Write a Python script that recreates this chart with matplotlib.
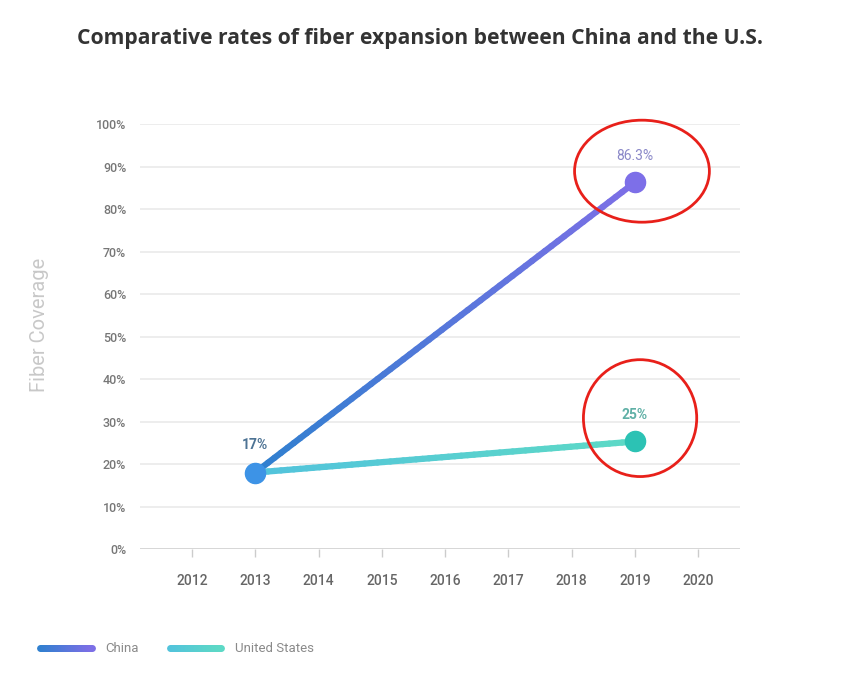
import numpy as np
import matplotlib
matplotlib.use("Agg")
import matplotlib.pyplot as plt
from matplotlib.collections import LineCollection
from matplotlib.colors import LinearSegmentedColormap
from matplotlib.patches import Ellipse

years = [2012, 2013, 2014, 2015, 2016, 2017, 2018, 2019, 2020]
yticks = [0, 10, 20, 30, 40, 50, 60, 70, 80, 90, 100]

china_years = [2013, 2019]
china_values = [18, 86.3]
china_labels = ["17%", "86.3%"]

us_years = [2013, 2019]
us_values = [18, 25.3]
us_labels = ["", "25%"]

plt.rcParams['font.family'] = ['Roboto', 'DejaVu Sans']


def gradient_line(ax, xs, ys, c1, c2, lw):
    # split each segment so the colour can fade from c1 to c2
    pts = []
    for i in range(len(xs) - 1):
        t = np.linspace(0, 1, 60)
        px = xs[i] + (xs[i + 1] - xs[i]) * t
        py = ys[i] + (ys[i + 1] - ys[i]) * t
        pts.append(np.column_stack([px, py]))
    pts = np.vstack(pts)
    segs = np.stack([pts[:-1], pts[1:]], axis=1)
    cmap = LinearSegmentedColormap.from_list("g", [c1, c2])
    lc = LineCollection(segs, cmap=cmap, linewidths=lw, capstyle='round', zorder=3)
    lc.set_array(np.linspace(0, 1, len(segs)))
    ax.add_collection(lc)


def create_chart():
    fig = plt.figure(figsize=(8.41, 6.81), dpi=100)
    ax = fig.add_axes([0.1665, 0.1938, 0.7135, 0.6241])

    ax.set_xlim(2011.18, 2020.66)
    ax.set_ylim(0, 100)
    for sp in ax.spines.values():
        sp.set_visible(False)

    for v in yticks[1:]:
        ax.axhline(v, color='#e8e8e8', lw=1.1, zorder=1)
    ax.axhline(0, color='#d0d0d0', lw=1.2, zorder=1)

    ax.set_xticks(years)
    ax.set_xticklabels([str(y) for y in years])
    ax.set_yticks(yticks)
    ax.set_yticklabels([f"{v}%" for v in yticks])
    ax.tick_params(axis='x', length=6, width=1, color='#cccccc', pad=12,
                   labelsize=10, labelcolor='#666666')
    ax.tick_params(axis='y', length=0, pad=10, labelsize=9, labelcolor='#777777')
    for lab in ax.get_xticklabels() + ax.get_yticklabels():
        lab.set_fontweight('medium')

    ax.set_ylabel("Fiber Coverage", color='#c8c8c8', fontsize=14.5, va='center')
    ax.yaxis.set_label_coords(-0.167, 0.527)

    gradient_line(ax, us_years, us_values, '#52c3dc', '#5dd9c6', 4.5)
    gradient_line(ax, china_years, china_values, '#2f80cf', '#7c6fe6', 4.5)

    ax.plot(china_years[0], china_values[0], 'o', ms=14.5, color='#3d93e6', zorder=5)
    ax.plot(china_years[1], china_values[1], 'o', ms=14.5, color='#7d6fe8', zorder=5)
    ax.plot(us_years[1], us_values[1], 'o', ms=14.5, color='#2cc2b4', zorder=5)

    ax.annotate(china_labels[0], (china_years[0], china_values[0]), xytext=(0, 17),
                textcoords='offset points', ha='center', fontsize=10,
                fontweight='bold', color='#4d7394')
    ax.annotate(china_labels[1], (china_years[1], china_values[1]), xytext=(0, 16),
                textcoords='offset points', ha='center', fontsize=10,
                color='#8a88c8')
    ax.annotate(us_labels[1], (us_years[1], us_values[1]), xytext=(0, 16),
                textcoords='offset points', ha='center', fontsize=10,
                fontweight='bold', color='#5fb0a6')

    # red highlight circles around the 2019 values
    ax.add_patch(Ellipse((2019.11, 88.9), 2.13, 24, fill=False, ec='#e8201a',
                         lw=2, zorder=6, clip_on=False))
    ax.add_patch(Ellipse((2019.08, 30.8), 1.79, 27.5, fill=False, ec='#e8201a',
                         lw=2, zorder=6, clip_on=False))

    fig.text(0.499, 0.944, "Comparative rates of fiber expansion between China and the U.S.",
             ha='center', va='center', fontsize=15.2, fontweight='bold',
             color='#333333', family=['Open Sans', 'DejaVu Sans'])

    # legend at the bottom
    cmap_c = LinearSegmentedColormap.from_list("c", ['#2f80cf', '#7c6fe6'])
    cmap_u = LinearSegmentedColormap.from_list("u", ['#52c3dc', '#5dd9c6'])
    ly = 1 - 648 / 681
    for (x0, x1, cmap, text, tx) in [(40, 92, cmap_c, "China", 105),
                                     (170, 221, cmap_u, "United States", 235)]:
        xs = np.linspace(x0 / 841, x1 / 841, 40)
        segs = np.stack([np.column_stack([xs[:-1], [ly] * 39]),
                         np.column_stack([xs[1:], [ly] * 39])], axis=1)
        lc = LineCollection(segs, cmap=cmap, linewidths=5, capstyle='round',
                            transform=fig.transFigure)
        lc.set_array(np.linspace(0, 1, 39))
        fig.add_artist(lc)
        fig.text(tx / 841, ly, text, ha='left', va='center', fontsize=9.5,
                 color='#8a8a8a')

    fig.savefig("out.png", dpi=100, facecolor='white')


if __name__ == "__main__":
    create_chart()
